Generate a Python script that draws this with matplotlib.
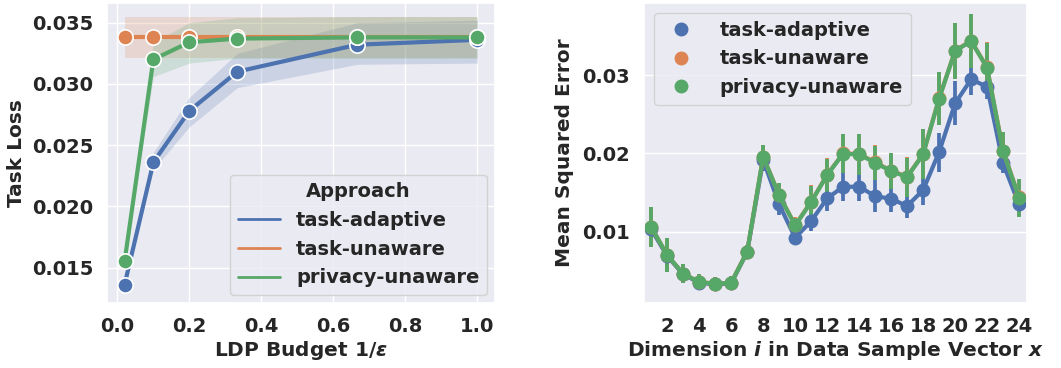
import numpy as np
import matplotlib
matplotlib.use('Agg')
import matplotlib.pyplot as plt
import seaborn as sns

sns.set_theme(style='darkgrid', palette='deep')
plt.rcParams['font.family'] = ['DejaVu Sans']
plt.rcParams['font.weight'] = 'bold'
plt.rcParams['axes.labelweight'] = 'bold'

# ---- left panel: task loss vs LDP budget ----
budget = [0.02, 0.1, 0.2, 1 / 3, 2 / 3, 1.0]
approaches = ['task-adaptive', 'task-unaware', 'privacy-unaware']

loss_adaptive = [0.0136, 0.0236, 0.0278, 0.0310, 0.0332, 0.0336]
loss_unaware = [0.0338, 0.0338, 0.0338, 0.0338, 0.0338, 0.0338]
loss_privacy = [0.0155, 0.0320, 0.0334, 0.0337, 0.0338, 0.0338]

lo_adaptive = [0.0135, 0.0230, 0.0265, 0.0297, 0.0316, 0.0317]
hi_adaptive = [0.0137, 0.0244, 0.0289, 0.0325, 0.0350, 0.0352]
lo_unaware = [0.0321, 0.0321, 0.0321, 0.0321, 0.0321, 0.0321]
hi_unaware = [0.0355, 0.0355, 0.0355, 0.0355, 0.0355, 0.0355]
lo_privacy = [0.0154, 0.0306, 0.0317, 0.0321, 0.0321, 0.0321]
hi_privacy = [0.0156, 0.0334, 0.0350, 0.0354, 0.0355, 0.0355]

# ---- right panel: MSE per dimension ----
dims = list(range(1, 25))
mse_adaptive = [0.0103, 0.0069, 0.00455, 0.00349, 0.00327, 0.0034, 0.0074, 0.01915,
                0.01349, 0.00923, 0.01136, 0.01426, 0.01575, 0.01575, 0.01455, 0.01421,
                0.01328, 0.01532, 0.02017, 0.02639, 0.02946, 0.02852, 0.01873, 0.01349]
mse_privacy = [0.0106, 0.0070, 0.00464, 0.00357, 0.00336, 0.00349, 0.00745, 0.01958,
               0.01464, 0.0108, 0.01379, 0.01724, 0.01996, 0.01988, 0.01881, 0.01775,
               0.01698, 0.01988, 0.02699, 0.03307, 0.03435, 0.03094, 0.0203, 0.01434]
mse_unaware = [0.0106, 0.0070, 0.00465, 0.00358, 0.00337, 0.0035, 0.00746, 0.0196,
               0.01468, 0.01085, 0.01384, 0.01729, 0.02, 0.01993, 0.01886, 0.0178,
               0.01703, 0.01993, 0.02704, 0.03312, 0.0344, 0.03099, 0.02036, 0.0144]
err_adaptive = [0.0022, 0.0020, 0.0011, 0.0009, 0.0008, 0.0008, 0.0007, 0.0014,
                0.0013, 0.0008, 0.0013, 0.0016, 0.0018, 0.0018, 0.0020, 0.0017,
                0.0015, 0.0019, 0.0025, 0.0028, 0.0020, 0.0016, 0.0012, 0.0015]
err_privacy = [0.0025, 0.0022, 0.0012, 0.0010, 0.0009, 0.0009, 0.0008, 0.0015,
               0.0016, 0.0010, 0.0021, 0.0021, 0.0025, 0.0026, 0.0022, 0.0023,
               0.0025, 0.0032, 0.0034, 0.0036, 0.0034, 0.0032, 0.0024, 0.0024]
err_unaware = [0.0025, 0.0022, 0.0012, 0.0010, 0.0009, 0.0009, 0.0008, 0.0015,
               0.0016, 0.0010, 0.0021, 0.0021, 0.0025, 0.0026, 0.0022, 0.0023,
               0.0025, 0.0032, 0.0034, 0.0036, 0.0034, 0.0032, 0.0024, 0.0024]

colors = sns.color_palette('deep')[:3]

fig = plt.figure(figsize=(10.61, 3.68), dpi=100)
ax1 = fig.add_axes([0.1008, 0.1766, 0.3657, 0.815])
ax2 = fig.add_axes([0.607, 0.1766, 0.361, 0.815])

# left
left_series = [(loss_adaptive, lo_adaptive, hi_adaptive),
               (loss_unaware, lo_unaware, hi_unaware),
               (loss_privacy, lo_privacy, hi_privacy)]
for name, (y, lo, hi), c in zip(approaches, left_series, colors):
    ax1.fill_between(budget, lo, hi, color=c, alpha=0.2, linewidth=0)
    ax1.plot(budget, y, color=c, linewidth=3, label=name)
    ax1.plot(budget, y, 'o', color=c, markersize=11, markeredgecolor='white',
             markeredgewidth=1.2)

ax1.set_ylim(0.0121, 0.0366)
ax1.set_xlim(-0.029, 1.049)
ax1.set_xticks([0.0, 0.2, 0.4, 0.6, 0.8, 1.0])
ax1.set_yticks([0.015, 0.020, 0.025, 0.030, 0.035])
ax1.set_yticklabels(['0.015', '0.020', '0.025', '0.030', '0.035'])
ax1.tick_params(labelsize=14, pad=4)
ax1.set_xlabel(r'LDP Budget 1/$\varepsilon$', fontsize=14.5, labelpad=2)
ax1.set_ylabel('Task Loss', fontsize=14.5, labelpad=4)
leg1 = ax1.legend(title='Approach', loc='lower right', fontsize=14,
                  title_fontproperties={'weight': 'bold', 'size': 14},
                  handlelength=2.2, borderaxespad=0.4)
for h in leg1.get_lines():
    h.set_linewidth(2)

# right
right_series = [(mse_adaptive, err_adaptive),
                (mse_unaware, err_unaware),
                (mse_privacy, err_privacy)]
pos = np.arange(len(dims))
for name, (y, e), c in zip(approaches, right_series, colors):
    ax2.errorbar(pos, y, yerr=e, color=c, linewidth=3, elinewidth=2.7,
                 marker='o', markersize=9, capsize=0, label=name)

ax2.set_xlim(-0.45, 23.5)
ax2.set_ylim(0.0009, 0.0392)
ax2.set_xticks(pos[1::2])
ax2.set_xticklabels([str(d) for d in dims[1::2]])
ax2.set_yticks([0.01, 0.02, 0.03])
ax2.grid(axis='x', visible=False)
ax2.tick_params(labelsize=14, pad=4)
ax2.set_xlabel(r'Dimension $\mathbfit{i}$ in Data Sample Vector $\mathbfit{x}$',
               fontsize=14.5, labelpad=2)
ax2.set_ylabel('Mean Squared Error', fontsize=14.5, labelpad=6)
handles = [plt.Line2D([], [], linestyle='', marker='o', color=c, markersize=9)
           for c in colors]
ax2.legend(handles, approaches, loc='upper left', fontsize=14,
           handletextpad=1.0, borderaxespad=0.5)

fig.savefig('out.png', dpi=100)
